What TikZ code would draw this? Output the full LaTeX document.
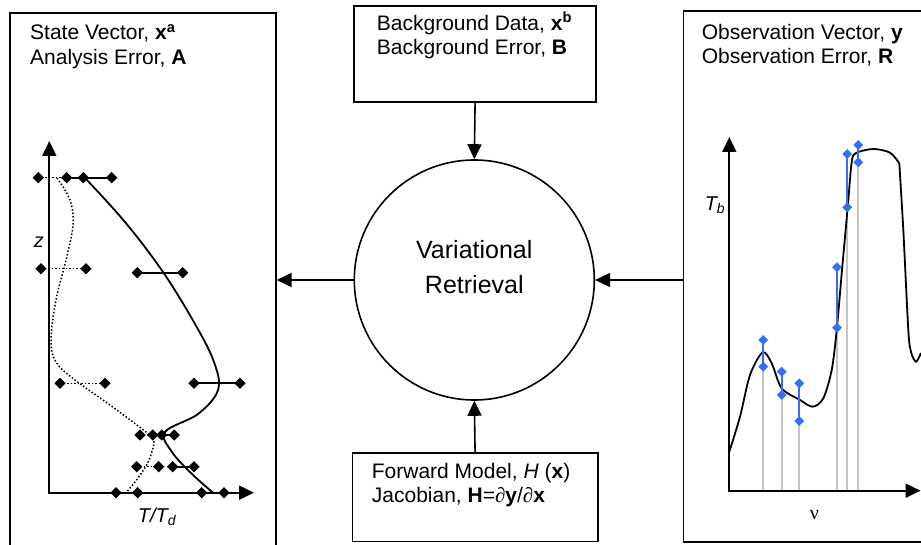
\documentclass[tikz,border=0pt]{standalone}
\usepackage{fontspec}
\setmainfont{Liberation Sans}
\newfontfamily\symfont{Liberation Serif}
\usetikzlibrary{arrows.meta,shapes.geometric,positioning}
\definecolor{obsblue}{RGB}{51,110,245}
\definecolor{stemgray}{RGB}{196,196,196}

\begin{document}
\begin{tikzpicture}[x=1pt, y=-1pt]
	\tikzstyle{Box}		= [rectangle, draw, line width=1.6pt, inner sep=0pt, anchor=north west]
	\tikzstyle{Caption}	= [anchor=north west, align=left, inner sep=0pt, font=\fontsize{21}{24.5}\selectfont]
	\tikzstyle{Big}		= [align=center, inner sep=0pt, font=\fontsize{25}{35}\selectfont]
	\tikzstyle{Link}	= [line width=1.6pt, -{Triangle[length=15pt,width=14pt]}]
	\tikzstyle{Axis}	= [line width=2pt, {Triangle[length=15pt,width=14pt]}-{Triangle[length=15pt,width=14pt]}]
	\tikzstyle{Dia}		= [diamond, fill=black, inner sep=0pt, minimum size=11.5pt]
	\tikzstyle{ObsDia}	= [diamond, fill=obsblue, inner sep=0pt, minimum size=10pt]
	\tikzstyle{Fit}		= [line width=1.8pt]
	\tikzstyle{Prior}	= [line width=1.5pt, dash pattern=on 1.5pt off 2pt]
	\tikzstyle{Bar}		= [line width=2pt, obsblue]
	\tikzstyle{Stem}	= [line width=2pt, stemgray]
	\tikzstyle{Lbl}		= [inner sep=0pt, font=\fontsize{20}{24}\selectfont\itshape]

	\useasboundingbox (0,0) rectangle (921,545);
	\fill [white] (0,0) rectangle (921,545);
	\clip (0,0) rectangle (921,545);

	\node (state) [Box, minimum width=266pt, minimum height=560pt] at (9,12) {};
	\node (bg) [Box, minimum width=242pt, minimum height=96pt] at (353.3,5) {};
	\node (fwd) [Box, minimum width=245.2pt, minimum height=88.4pt] at (351.7,452.3) {};
	\node (obs) [Box, minimum width=300pt, minimum height=531pt] at (682.7,10) {};
	\node (retr) [circle, draw, line width=1.6pt, minimum size=240pt, inner sep=0pt] at (474.3,280) {};

	\node (statetxt) [Caption] at (30,24) {State Vector, \textbf{x}\textsuperscript{\textbf{a}}\\Analysis Error, \textbf{A}};
	\node (bgtxt) [Caption] at (376.7,12) {Background Data, \textbf{x}\textsuperscript{\textbf{b}}\\Background Error, \textbf{B}};
	\node (obstxt) [Caption] at (701.7,24) {Observation Vector, \textbf{y}\\Observation Error, \textbf{R}};
	\node (fwdtxt) [Caption] at (371.7,463) {Forward Model, \textit{H} (\textbf{x})\\Jacobian, \textbf{H}={\symfont\itshape ∂}\textbf{y}/{\symfont\itshape ∂}\textbf{x}};
	\node (retrtxt) [Big] at (474.3,267.5) {Variational\\Retrieval};

	\draw [Link] (retr.west) -- (retr.west -| state.east);
	\draw [Link] (obs.west |- retr.east) -- (retr.east);
	\draw [Link] (bg.south) -- (retr.north);
	\draw [Link] (fwd.north) -- (retr.south);

	\draw [Axis] (49.3,141) |- (254,492.7);
	\draw [Fit] plot [smooth, tension=0.6] coordinates {(85,178) (125,222) (163,272) (195,324) (214,362) (218,390) (198,414) (165,432) (172,452) (192,474) (213,492.7)};
	\draw [Prior] plot [smooth, tension=0.6] coordinates {(57,178) (70,200) (73,225) (66,260) (56,300) (51,340) (56,362) (75,380) (110,405) (146,432) (154,440) (149,460) (138,478) (126,492.7)};
	\foreach \r/\ya/\yb/\p/\q/\s/\t in {a/177.7/177.7/38.3/66.7/83.3/111.7, b/268.7/272.7/41/86/137.3/182.7, c/383.3/383.3/60/105/194/240, d/435/435/140/161.7/152.7/174.3, e/466.7/466.7/136.7/158.7/172.7/194, f/492.7/492.7/116/137.7/201.7/224} {
		\node (\r1) [Dia] at (\p,\ya) {};
		\node (\r2) [Dia] at (\q,\ya) {};
		\node (\r3) [Dia] at (\s,\yb) {};
		\node (\r4) [Dia] at (\t,\yb) {};
		\draw [Prior] (\r1.center) -- (\r2.center);
		\draw [Fit] (\r3.center) -- (\r4.center);
	}
	\draw [Fit] (a2.center) -- (a3.center);
	\node (zlbl) [Lbl] at (39,242.7) {z};
	\node (tlbl) [Lbl] at (157,517) {T/T\textsubscript{d}};

	\foreach \x/\b in {763.3/366.7, 781.7/395, 799.3/421, 837/327.7, 847.2/207.3, 858.3/162.3}
		\draw [Stem] (\x,\b) -- (\x,490.7);
	\draw [Axis] (729.3,137) |- (920.5,490.7);
	\draw [Fit] plot [smooth, tension=0.5] coordinates {(729.3,451.7) (740,416.7) (750,375) (762.7,352.3) (771.7,363.3) (781.7,388.3) (800,400) (812.7,406.7) (823.3,398.3) (831.7,370) (836.7,330) (842,270) (847.7,207.3) (851.7,162) (856,153) (873.3,149) (890,152.7) (899.3,163.3)}
		plot [smooth, tension=0.5] coordinates {(899.3,163.3) (903.3,230) (908.3,330) (911,352) (916,361.7) (921,353)};
	\foreach \x/\t/\b [count=\i] in {763.3/340/366.7, 781.7/371.7/395, 799.3/383.3/421, 837/267.3/327.7, 847.2/154/207.3, 858.3/145/162.3} {
		\node (ot\i) [ObsDia] at (\x,\t) {};
		\node (ob\i) [ObsDia] at (\x,\b) {};
		\draw [Bar] (ot\i.center) -- (ob\i.center);
	}
	\node (tblbl) [Lbl] at (715,205) {T\textsubscript{b}};
	\node (nulbl) [inner sep=0pt, font=\fontsize{20}{24}\symfont] at (814.3,515) {ν};
\end{tikzpicture}
\end{document}
